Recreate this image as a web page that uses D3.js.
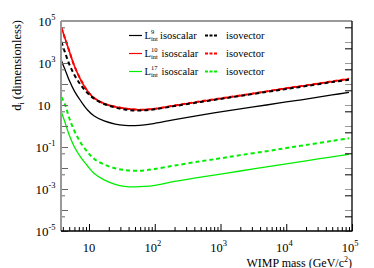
<!DOCTYPE html>
<html>
<head>
<meta charset="utf-8">
<script src="https://cdn.jsdelivr.net/npm/d3@7"></script>
<style>
  body { margin: 0; background: #fff; }
  svg { display: block; font-family: "Liberation Serif", "DejaVu Serif", serif; }
</style>
</head>
<body>
<div id="chart"></div>
<script>
// WIMP mass (GeV/c^2)
var masses = [3.8, 4.3, 5, 6, 7.5, 9.5, 12, 17, 25, 35, 50, 70, 100, 200, 500, 1000, 2000, 5000, 10000, 20000, 50000, 90000];

// d_i values
var l9Scalar = [1300, 500, 150, 46, 15.5, 5.8, 3.0, 1.74, 1.24, 1.07, 1.04, 1.12, 1.33, 2.0, 3.3, 4.7, 6.5, 10, 14, 19, 30, 40];
var l9Vector = [10200, 3300, 890, 270, 90, 37, 20, 11.2, 7.6, 6.1, 5.5, 5.6, 6.3, 8.9, 14, 19.5, 27, 42, 58, 80, 124, 160];
var l10Scalar = [51000, 15500, 3700, 720, 155, 47, 21, 11.7, 8.3, 6.9, 6.1, 6.0, 6.6, 9.3, 14.8, 20.4, 28, 44, 62, 85, 132, 174];
var l10Vector = [48000, 15000, 3800, 700, 160, 46, 21.5, 11.5, 8.2, 6.8, 6.1, 6.0, 6.6, 9.4, 15, 20.6, 28.5, 44.5, 63, 86, 134, 176];
var l17Scalar = [4.5, 1.55, 0.37, 0.10, 0.032, 0.0125, 0.0055, 0.0027, 0.00167, 0.00134, 0.00126, 0.00132, 0.0015, 0.0023, 0.0037, 0.0051, 0.0072, 0.0112, 0.0158, 0.022, 0.034, 0.045];
var l17Vector = [24, 11, 2.4, 0.58, 0.155, 0.058, 0.027, 0.0147, 0.0097, 0.0080, 0.0074, 0.0077, 0.0090, 0.0130, 0.021, 0.029, 0.041, 0.063, 0.089, 0.125, 0.196, 0.26];

var xTickExp = [1, 2, 3, 4, 5];
var yTickExp = [5, 3, 1, -1, -3, -5];
var legendSup = ["9", "10", "17"];

var width = 374, height = 268;
var margin = { top: 21, right: 22, bottom: 37, left: 61 };

var xScale = d3.scaleLog().domain([3.75, 1e5]).range([margin.left, width - margin.right]);
var yScale = d3.scaleLog().domain([1e-5, 1e5]).range([height - margin.bottom, margin.top]);

var svg = d3.select("#chart").append("svg")
  .attr("width", width)
  .attr("height", height);

var series = [
  { values: l10Scalar, color: "#ff0000", dash: null, w: 1.6 },
  { values: l10Vector, color: "#ff0000", dash: "4,3", w: 2 },
  { values: l9Scalar, color: "#000000", dash: null, w: 1.3 },
  { values: l9Vector, color: "#000000", dash: "4,3", w: 2 },
  { values: l17Scalar, color: "#00ee00", dash: null, w: 1.3 },
  { values: l17Vector, color: "#00ee00", dash: "4,3", w: 2 }
];

var line = d3.line()
  .x((d, i) => xScale(masses[i]))
  .y(d => yScale(d))
  .curve(d3.curveCatmullRom.alpha(0.5));

svg.selectAll(".curve")
  .data(series)
  .enter()
  .append("path")
  .attr("class", "curve")
  .attr("fill", "none")
  .attr("stroke", d => d.color)
  .attr("stroke-width", d => d.w)
  .attr("stroke-dasharray", d => d.dash)
  .attr("d", d => line(d.values));

// x ticks (pointing inward)
var xMajor = xTickExp.map(e => Math.pow(10, e));
var xMinor = [];
for (var e = 0; e < 5; e++) {
  for (var k = 2; k < 10; k++) {
    var v = k * Math.pow(10, e);
    if (v >= 3.75 && v < 1e5) xMinor.push(v);
  }
}
var yMajor = d3.range(-5, 6).map(e => Math.pow(10, e));
var yMinor = d3.range(-5, 5).map(e => 5 * Math.pow(10, e));

var xAxisG = svg.append("g").attr("transform", "translate(0," + (height - margin.bottom) + ")");
xAxisG.append("g").call(d3.axisBottom(xScale).tickValues(xMinor).tickSize(-4).tickFormat(""));
xAxisG.append("g").call(d3.axisBottom(xScale).tickValues(xMajor).tickSize(-7).tickFormat(""));
xAxisG.selectAll(".domain").remove();
xAxisG.selectAll("line").attr("stroke", "#000");

var yLeft = svg.append("g").attr("transform", "translate(" + margin.left + ",0)");
yLeft.append("g").call(d3.axisLeft(yScale).tickValues(yMinor).tickSize(-4).tickFormat(""));
yLeft.append("g").call(d3.axisLeft(yScale).tickValues(yMajor).tickSize(-7).tickFormat(""));
yLeft.selectAll(".domain").remove();
yLeft.selectAll("line").attr("stroke", "#666");

var yRight = svg.append("g").attr("transform", "translate(" + (width - margin.right) + ",0)");
yRight.append("g").call(d3.axisRight(yScale).tickValues(yMinor).tickSize(-7).tickFormat(""))
  .selectAll("line").attr("stroke", "#000");
yRight.append("g").call(d3.axisRight(yScale).tickValues(yMajor).tickSize(-7).tickFormat(""))
  .selectAll("line").attr("stroke", "#999");
yRight.selectAll(".domain").remove();

// frame
var x0 = margin.left, x1 = width - margin.right, y0 = margin.top, y1 = height - margin.bottom;
svg.append("line").attr("x1", x0).attr("x2", x1).attr("y1", y0).attr("y2", y0)
  .attr("stroke", "#999").attr("stroke-width", 2);
svg.append("line").attr("x1", x0).attr("x2", x0).attr("y1", y0).attr("y2", y1)
  .attr("stroke", "#999").attr("stroke-width", 2);
svg.append("line").attr("x1", x0).attr("x2", x1 + 0.5).attr("y1", y1).attr("y2", y1)
  .attr("stroke", "#000").attr("stroke-width", 1.3);
svg.append("line").attr("x1", x1).attr("x2", x1).attr("y1", y0).attr("y2", y1)
  .attr("stroke", "#000").attr("stroke-width", 1.3);

// x tick labels
var xl = svg.selectAll(".xlab").data(xTickExp).enter().append("text")
  .attr("class", "xlab")
  .attr("x", d => xScale(Math.pow(10, d)) + (d === 1 ? 0 : -2))
  .attr("y", 252)
  .attr("text-anchor", "middle")
  .attr("font-size", 12.5);
xl.append("tspan").text("10");
xl.filter(d => d !== 1).append("tspan").attr("dy", -6).attr("font-size", 8.5).text(d => d);

// y tick labels
var yl = svg.selectAll(".ylab").data(yTickExp).enter().append("text")
  .attr("class", "ylab")
  .attr("x", d => d === 1 ? 50.5 : 55.5)
  .attr("y", d => yScale(Math.pow(10, d)) + 4.5)
  .attr("text-anchor", "end")
  .attr("font-size", 13);
yl.append("tspan").text("10");
yl.filter(d => d !== 1).append("tspan").attr("dy", -6).attr("font-size", 8.5).text(d => d);

// axis titles
var xt = svg.append("text")
  .attr("x", x1)
  .attr("y", 266.5)
  .attr("text-anchor", "end")
  .attr("font-size", 12);
xt.append("tspan").text("WIMP mass (GeV/c");
xt.append("tspan").attr("dy", -5).attr("font-size", 8).text("2");
xt.append("tspan").attr("dy", 5).text(")");

var yt = svg.append("text")
  .attr("transform", "translate(21,20) rotate(-90)")
  .attr("text-anchor", "end")
  .attr("font-size", 12.5);
yt.append("tspan").text("d");
yt.append("tspan").attr("dy", 3).attr("font-size", 8).text("i");
yt.append("tspan").attr("dy", -3).text(" (dimensionless)");

// legend
var legendColors = ["#000000", "#ff0000", "#00ee00"];
var rows = svg.selectAll(".leg").data(legendSup).enter().append("g")
  .attr("class", "leg")
  .attr("transform", (d, i) => "translate(0," + (35.5 + i * 18) + ")");
rows.append("line").attr("x1", 129).attr("x2", 142).attr("y1", 0).attr("y2", 0)
  .attr("stroke", (d, i) => legendColors[i]).attr("stroke-width", 1.2);
rows.append("line").attr("x1", 205).attr("x2", 217).attr("y1", 0).attr("y2", 0)
  .attr("stroke", (d, i) => legendColors[i]).attr("stroke-width", 2)
  .attr("stroke-dasharray", "3,1.5");
rows.append("text").attr("x", 144.5).attr("y", 3.5).attr("font-size", 10.5).text("L");
rows.append("text").attr("x", 151).attr("y", -1.5).attr("font-size", 6.5).text(d => d);
rows.append("text").attr("x", 151).attr("y", 5.5).attr("font-size", 6.5).text("int");
rows.append("text").attr("x", (d, i) => i === 0 ? 160 : 161.5).attr("y", 3.5).attr("font-size", 10.5).text("isoscalar");
rows.append("text").attr("x", 226).attr("y", 3.5).attr("font-size", 10.5).text("isovector");
</script>
</body>
</html>
